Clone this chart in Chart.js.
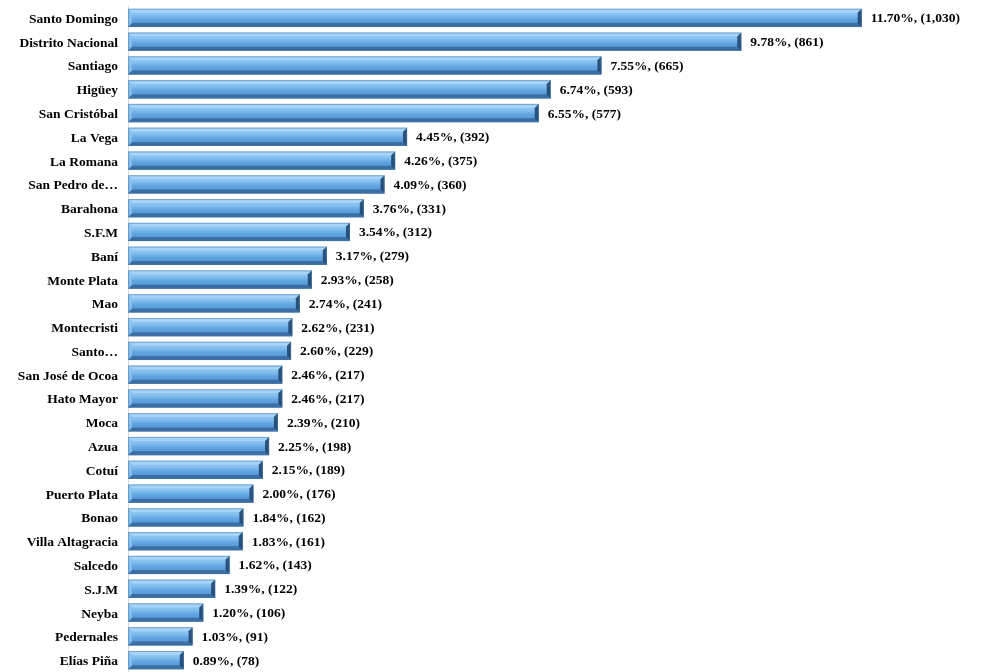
<!DOCTYPE html>
<html><head><meta charset="utf-8">
<script src="https://cdn.jsdelivr.net/npm/chart.js@4.4.1/dist/chart.umd.min.js"></script>
<style>html,body{margin:0;padding:0;background:#fff;}#wrap{width:984px;height:672px;position:relative;}</style>
</head><body><div id="wrap"><canvas id="c" width="984" height="672"></canvas></div>
<script>
const categories = ["Santo Domingo","Distrito Nacional","Santiago","Higüey","San Cristóbal","La Vega","La Romana","San Pedro de…","Barahona","S.F.M","Baní","Monte Plata","Mao","Montecristi","Santo…","San José de Ocoa","Hato Mayor","Moca","Azua","Cotuí","Puerto Plata","Bonao","Villa Altagracia","Salcedo","S.J.M","Neyba","Pedernales","Elías Piña"];
const percents = [11.70,9.78,7.55,6.74,6.55,4.45,4.26,4.09,3.76,3.54,3.17,2.93,2.74,2.62,2.60,2.46,2.46,2.39,2.25,2.15,2.00,1.84,1.83,1.62,1.39,1.20,1.03,0.89];
const counts = [1030,861,665,593,577,392,375,360,331,312,279,258,241,231,229,217,217,210,198,189,176,162,161,143,122,106,91,78];

const FONT = '"Liberation Serif","Times New Roman",serif';

const bevel = {
  id:'bevel',
  afterDatasetsDraw(chart){
    const ctx = chart.ctx;
    const meta = chart.getDatasetMeta(0);
    meta.data.forEach((el,i)=>{
      const x0 = el.base, x1 = el.x, h = el.height, yT = el.y - h/2, yB = el.y + h/2;
      const w = x1 - x0;
      const b = 4;
      ctx.save();
      const g = ctx.createLinearGradient(0,yT,0,yB);
      g.addColorStop(0,'#80bbee');
      g.addColorStop(0.3,'#8ac3f2');
      g.addColorStop(0.6,'#5fa3e0');
      g.addColorStop(1,'#508fcc');
      ctx.fillStyle = g;
      ctx.fillRect(x0,yT,w,h);
      ctx.fillStyle = 'rgba(185,222,250,0.65)';
      ctx.beginPath();ctx.moveTo(x0,yT);ctx.lineTo(x1,yT);ctx.lineTo(x1-b,yT+b);ctx.lineTo(x0+b,yT+b);ctx.closePath();ctx.fill();
      ctx.fillStyle = 'rgba(50,98,148,0.75)';
      ctx.beginPath();ctx.moveTo(x0,yB);ctx.lineTo(x1,yB);ctx.lineTo(x1-b,yB-b);ctx.lineTo(x0+b,yB-b);ctx.closePath();ctx.fill();
      ctx.fillStyle = 'rgba(140,195,238,0.8)';
      ctx.beginPath();ctx.moveTo(x0,yT);ctx.lineTo(x0+b,yT+b);ctx.lineTo(x0+b,yB-b);ctx.lineTo(x0,yB);ctx.closePath();ctx.fill();
      ctx.fillStyle = 'rgba(32,70,110,0.9)';
      ctx.beginPath();ctx.moveTo(x1,yT);ctx.lineTo(x1-b,yT+b);ctx.lineTo(x1-b,yB-b);ctx.lineTo(x1,yB);ctx.closePath();ctx.fill();
      ctx.strokeStyle='rgba(70,120,170,0.5)';ctx.lineWidth=1;
      ctx.strokeRect(x0+0.5,yT+0.5,w-1,h-1);
      ctx.fillStyle='#000';
      ctx.font='bold 13.5px '+FONT;
      ctx.textBaseline='middle';ctx.textAlign='left';
      ctx.fillText(percents[i].toFixed(2)+'%, ('+counts[i].toLocaleString('en-US')+')', x1+9, el.y+1);
      ctx.restore();
    });
  }
};

new Chart(document.getElementById('c'),{
  type:'bar',
  data:{labels:categories,datasets:[{data:percents,backgroundColor:'rgba(0,0,0,0)',borderWidth:0,categoryPercentage:0.8,barPercentage:0.96}]},
  options:{
    indexAxis:'y',responsive:false,animation:false,
    layout:{padding:{top:6,bottom:-1,left:0,right:0}},
    plugins:{legend:{display:false},tooltip:{enabled:false}},
    scales:{
      x:{min:0,max:13.65,display:false},
      y:{
        afterFit(s){s.width=128;s.paddingTop=0;s.paddingBottom=0;},
        grid:{display:false,drawTicks:false},
        border:{display:true,color:'#d9d9d9',width:1},
        ticks:{color:'#000',padding:10,labelOffset:1.5,autoSkip:false,font:{family:FONT,weight:'bold',size:13.5}}
      }
    }
  },
  plugins:[bevel]
});
</script></body></html>
